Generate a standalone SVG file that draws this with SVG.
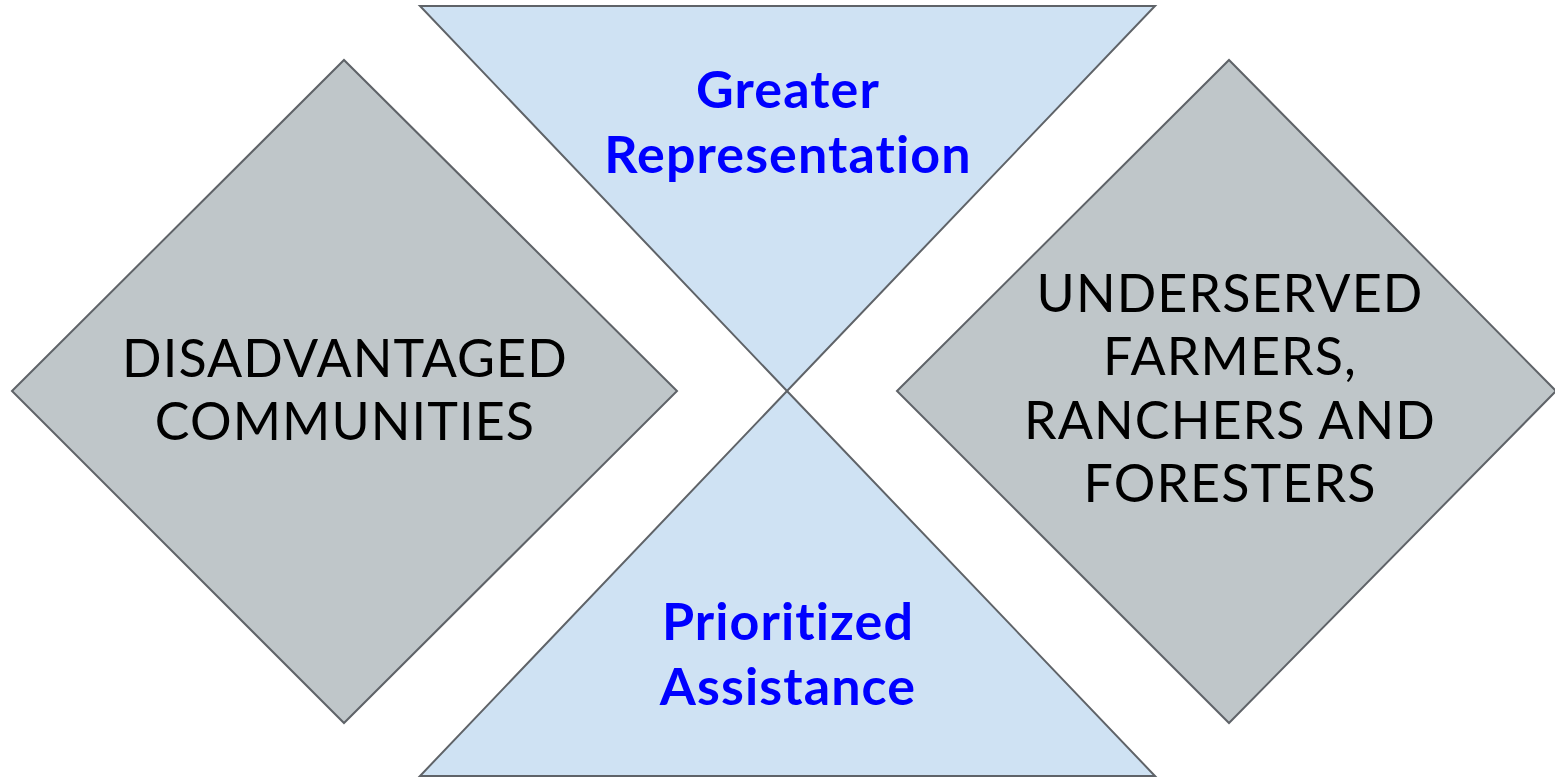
<svg xmlns="http://www.w3.org/2000/svg" width="1555" height="777" viewBox="0 0 1555 777">
<style>
.gray{fill:#bfc6c9;stroke:#5f6368;stroke-width:2}
.blue{fill:#cfe2f3;stroke:#5f6368;stroke-width:2}
text{font-variant-ligatures:none;font-feature-settings:"liga" 0;text-anchor:middle;font-family:Lato,"Liberation Sans",sans-serif;font-size:52px;letter-spacing:1.1px}
.dark{fill:#000}
.hl{font-weight:bold;fill:#0000ff}
</style>
<rect width="1555" height="777" fill="#fff"/>
<g id="disadvantaged">
<polygon class="gray" points="12,391 344,60 677,391 344,723"/>
<text class="dark" x="345" y="377">DISADVANTAGED</text>
<text class="dark" x="345" y="440">COMMUNITIES</text>
</g>
<g id="underserved">
<polygon class="gray" points="897,391 1229,60 1556,391 1229,723"/>
<text class="dark" x="1230" y="312">UNDERSERVED</text>
<text class="dark" x="1230" y="375">FARMERS,</text>
<text class="dark" x="1230" y="439">RANCHERS AND</text>
<text class="dark" x="1230" y="502">FORESTERS</text>
</g>
<g id="representation">
<polygon class="blue" points="420,6 1155,6 787,391"/>
<text class="hl" x="788" y="108">Greater</text>
<text class="hl" x="788" y="173">Representation</text>
</g>
<g id="assistance">
<polygon class="blue" points="787,391 1155,776 420,776"/>
<text class="hl" x="788" y="640">Prioritized</text>
<text class="hl" x="788" y="705">Assistance</text>
</g>
<g id="connectors"></g>
</svg>
